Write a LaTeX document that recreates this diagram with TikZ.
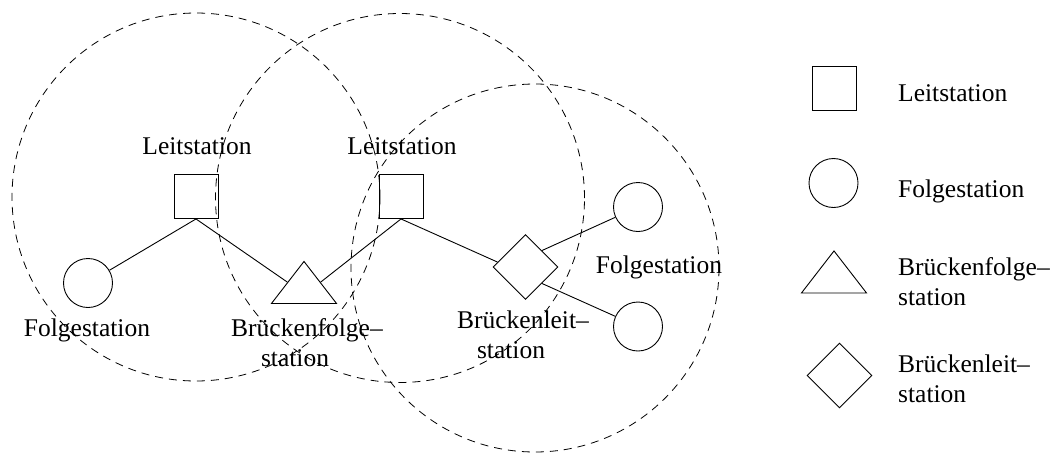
\documentclass[tikz,border=0pt]{standalone}
\usepackage{fontspec}
\setmainfont{Liberation Serif}
\usetikzlibrary{shapes.geometric}

\begin{document}
\begin{tikzpicture}[x=1pt,y=-1pt,
  every node/.style={font=\fontsize{25.5}{30}\selectfont},
  lbl/.style={inner sep=0pt,anchor=base},
  lgd/.style={inner sep=0pt,anchor=base west,align=left},
  master/.style={draw,rectangle,minimum size=44pt,inner sep=0pt,line width=0.9pt},
  slave/.style={draw,circle,minimum size=49pt,inner sep=0pt,line width=0.9pt},
  bslave/.style={draw,isosceles triangle,isosceles triangle stretches,
    shape border rotate=90,minimum width=65pt,minimum height=42pt,
    inner sep=0pt,line width=0.9pt},
  bmaster/.style={draw,diamond,minimum size=65pt,inner sep=0pt,line width=0.9pt},
  coverage/.style={line width=0.8pt,dash pattern=on 8pt off 6pt},
  link/.style={line width=0.9pt}]
\useasboundingbox (0,0) rectangle (1055,453);

% radio ranges of the two piconets and the bridge
\draw[coverage] (196,197) circle[radius=184pt];
\draw[coverage] (400,198) circle[radius=184.5pt];
\draw[coverage] (535,268) circle[radius=184pt];

% stations
\node[master] (m1) at (196,196.5) {};
\node[master] (m2) at (401,196.5) {};
\node[slave] (s1) at (88,283) {};
\node[bslave] (bs) at (304,287.5) {};
\node[bmaster] (bm) at (525.5,267) {};
\node[slave] (s2) at (638,207) {};
\node[slave] (s3) at (638,326.5) {};

% labels (multi-line ones are anchored at the baseline of their last line)
\node[lbl] (tm1) at (197,154) {Leitstation};
\node[lbl] (tm2) at (402,154) {Leitstation};
\node[lbl] (ts1) at (87,336) {Folgestation};
\node[lbl,align=center] (tbs) at (307,366) {Brückenfolge–\\station\hspace*{24pt}};
\node[lbl,align=center] (tbm) at (523,358) {Brückenleit–\\station\hspace*{24pt}};
\node[lbl] (ts2) at (659,273) {Folgestation};

% links
\draw[link] (m1.south) -- (s1);
\draw[link] (m1.south) -- (bs.left side);
\draw[link] (m2.south) -- (bs.right side);
\draw[link] (m2.south) -- (bm.170);
\draw[link] (bm.north east) -- (s2);
\draw[link] (bm.south east) -- (s3);

% legend
\node[master] (km) at (834,88.5) {};
\node[slave] (ks) at (833.5,183) {};
\node[bslave] (kbs) at (834,277) {};
\node[bmaster] (kbm) at (839.5,375.5) {};
\node[lgd] (lm) at (898,101) {Leitstation};
\node[lgd] (ls) at (898,197) {Folgestation};
\node[lgd] (lbs) at (898,305) {Brückenfolge–\\station};
\node[lgd] (lbm) at (898,402) {Brückenleit–\\station};
\end{tikzpicture}
\end{document}
